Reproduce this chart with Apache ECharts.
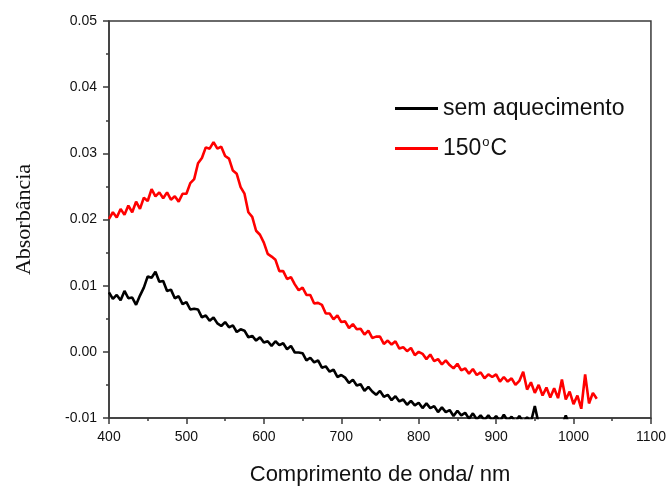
<!DOCTYPE html>
<html>
<head>
<meta charset="utf-8">
<script src="https://cdn.jsdelivr.net/npm/echarts@6/dist/echarts.min.js"></script>
<style>
html,body{margin:0;padding:0;background:#fff;}
#chart{width:669px;height:491px;}
</style>
</head>
<body>
<div id="chart"></div>
<script>
// Wavelength grid (nm)
const wavelengths = [
400,405,410,415,420,425,430,435,440,445,450,455,460,465,470,475,480,485,490,495,
500,505,510,515,520,525,530,535,540,545,550,555,560,565,570,575,580,585,590,595,
600,605,610,615,620,625,630,635,640,645,650,655,660,665,670,675,680,685,690,695,
700,705,710,715,720,725,730,735,740,745,750,755,760,765,770,775,780,785,790,795,
800,805,810,815,820,825,830,835,840,845,850,855,860,865,870,875,880,885,890,895,
900,905,910,915,920,925,930,935,940,945,950,955,960,965,970,975,980,985,990,995,
1000,1005,1010,1015,1020,1025,1030
];

// "sem aquecimento" absorbance (400 .. 1000 nm)
const semAquecimento = [
0.0090,0.0080,0.0086,0.0078,0.0092,0.0081,0.0082,0.0071,0.0085,0.0097,
0.0114,0.0112,0.0121,0.0106,0.0107,0.0092,0.0094,0.0081,0.0084,0.0072,
0.0075,0.0064,0.0065,0.0064,0.0052,0.0055,0.0047,0.0052,0.0043,0.0039,
0.0045,0.0037,0.0040,0.0030,0.0034,0.0032,0.0022,0.0024,0.0017,0.0022,
0.0014,0.0016,0.0009,0.0016,0.0010,0.0013,0.0004,0.0009,-0.0001,-0.0001,
-0.0002,-0.0013,-0.0009,-0.0016,-0.0013,-0.0024,-0.0022,-0.0030,-0.0027,-0.0038,
-0.0035,-0.0039,-0.0047,-0.0042,-0.0051,-0.0049,-0.0059,-0.0053,-0.0060,-0.0065,
-0.0059,-0.0068,-0.0065,-0.0073,-0.0067,-0.0075,-0.0072,-0.0080,-0.0074,-0.0081,
-0.0077,-0.0085,-0.0078,-0.0085,-0.0082,-0.0091,-0.0084,-0.0091,-0.0088,-0.0097,
-0.0089,-0.0096,-0.0092,-0.0101,-0.0093,-0.0102,-0.0096,-0.0103,-0.0096,-0.0104,
-0.0097,-0.0105,-0.0095,-0.0104,-0.0098,-0.0106,-0.0097,-0.0106,-0.0099,-0.0106,
-0.0082,-0.0109,-0.0112,-0.0114,-0.0113,-0.0115,-0.0114,-0.0112,-0.0096,-0.0113,
-0.0115
];

// "150°C" absorbance (400 .. 1030 nm)
const aquecido150 = [
0.0201,0.0211,0.0203,0.0216,0.0207,0.0221,0.0211,0.0227,0.0216,0.0233,
0.0228,0.0246,0.0235,0.0241,0.0232,0.0241,0.0230,0.0235,0.0227,0.0239,
0.0239,0.0255,0.0261,0.0285,0.0293,0.0309,0.0307,0.0317,0.0307,0.0310,
0.0296,0.0292,0.0274,0.0269,0.0249,0.0239,0.0211,0.0204,0.0183,0.0177,
0.0165,0.0148,0.0144,0.0139,0.0122,0.0122,0.0110,0.0113,0.0102,0.0093,
0.0097,0.0086,0.0086,0.0073,0.0074,0.0071,0.0058,0.0058,0.0049,0.0055,
0.0045,0.0046,0.0036,0.0042,0.0034,0.0035,0.0026,0.0032,0.0021,0.0023,
0.0023,0.0012,0.0017,0.0011,0.0016,0.0005,0.0007,0.0001,0.0006,-0.0005,
0.0000,-0.0003,-0.0011,-0.0004,-0.0014,-0.0011,-0.0019,-0.0013,-0.0020,-0.0025,
-0.0018,-0.0028,-0.0025,-0.0033,-0.0026,-0.0035,-0.0031,-0.0040,-0.0034,-0.0038,
-0.0034,-0.0045,-0.0038,-0.0045,-0.0040,-0.0050,-0.0044,-0.0030,-0.0057,-0.0046,
-0.0062,-0.0050,-0.0066,-0.0054,-0.0069,-0.0055,-0.0070,-0.0042,-0.0072,-0.0060,
-0.0079,-0.0066,-0.0086,-0.0034,-0.0078,-0.0062,-0.0071
];

const xTickMin = 400, xTickMax = 1100, xTickStep = 100;
const yTickMin = -0.01, yTickMax = 0.05, yTickStep = 0.01;

function pairs(xs, ys) {
  return ys.map((v, i) => [xs[i], v]);
}

const chart = echarts.init(document.getElementById('chart'), null, {renderer: 'canvas'});
const axisColor = '#3a3a3a';
const sans = 'Liberation Sans, Arial, sans-serif';
const labelFont = {fontFamily: sans, fontSize: 14, color: '#111'};

chart.setOption({
  animation: false,
  backgroundColor: '#fff',
  grid: {left: 109, right: 13, top: 21, bottom: 69, show: true, borderColor: axisColor, borderWidth: 1.5, backgroundColor: 'transparent'},
  legend: {
    orient: 'vertical',
    left: 390,
    top: 91,
    icon: 'rect',
    itemWidth: 43,
    itemHeight: 3,
    itemGap: 15,
    data: ['sem aquecimento', '150°C'],
    formatter: function (name) {
      if (name === '150°C') return '150{s|o}C';
      return name;
    },
    textStyle: {
      fontFamily: sans,
      fontSize: 23,
      lineHeight: 25,
      color: '#111',
      rich: {
        s: {fontSize: 13, verticalAlign: 'top', lineHeight: 25, padding: [0, 1, 16, 1], color: '#111', fontFamily: sans}
      }
    }
  },
  xAxis: {
    type: 'value',
    min: xTickMin,
    max: xTickMax,
    interval: xTickStep,
    name: 'Comprimento de onda/ nm',
    nameLocation: 'middle',
    nameGap: 46,
    nameTextStyle: {fontFamily: sans, fontSize: 22, color: '#111'},
    axisLine: {show: true, onZero: false, lineStyle: {color: axisColor, width: 1.5}},
    axisTick: {show: true, inside: false, length: 6, lineStyle: {color: axisColor, width: 1.5}},
    minorTick: {show: true, splitNumber: 2, length: 3, lineStyle: {color: axisColor, width: 1.5}},
    axisLabel: Object.assign({margin: 12, formatter: v => String(v)}, labelFont),
    splitLine: {show: false}
  },
  yAxis: {
    type: 'value',
    min: yTickMin,
    max: yTickMax,
    interval: yTickStep,
    name: 'Absorbância',
    nameLocation: 'middle',
    nameGap: 74,
    nameTextStyle: {fontFamily: 'Liberation Serif, Times New Roman, serif', fontSize: 22, color: '#111'},
    axisLine: {show: true, onZero: false, lineStyle: {color: axisColor, width: 1.5}},
    axisTick: {show: true, inside: false, length: 6, lineStyle: {color: axisColor, width: 1.5}},
    minorTick: {show: true, splitNumber: 2, length: 3, lineStyle: {color: axisColor, width: 1.5}},
    axisLabel: Object.assign({margin: 12, formatter: v => v.toFixed(2)}, labelFont),
    splitLine: {show: false}
  },
  series: [
    {
      name: 'sem aquecimento',
      type: 'line',
      data: pairs(wavelengths, semAquecimento),
      showSymbol: false,
      clip: true,
      lineStyle: {color: '#000', width: 2.6},
      itemStyle: {color: '#000'}
    },
    {
      name: '150°C',
      type: 'line',
      data: pairs(wavelengths, aquecido150),
      showSymbol: false,
      clip: true,
      lineStyle: {color: '#ff0000', width: 2.6},
      itemStyle: {color: '#ff0000'}
    }
  ]
});
</script>
</body>
</html>
